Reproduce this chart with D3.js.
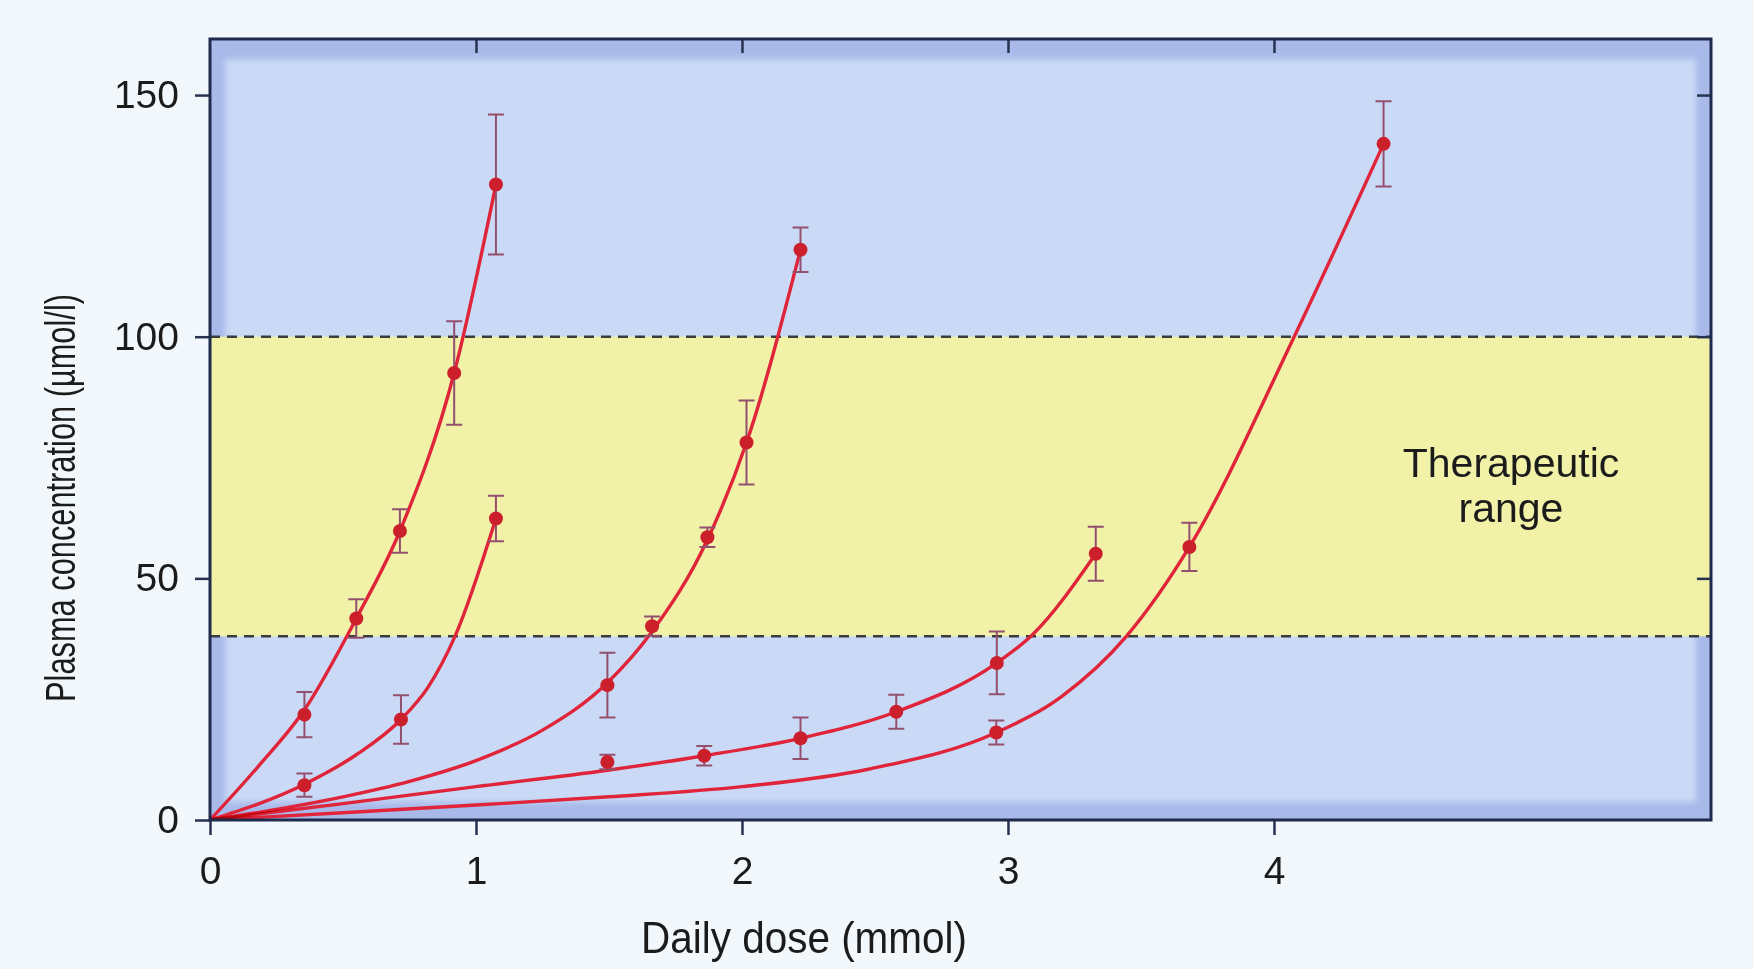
<!DOCTYPE html>
<html>
<head>
<meta charset="utf-8">
<script src="https://cdn.jsdelivr.net/npm/d3@7"></script>
<style>
  html, body { margin: 0; padding: 0; background: #f1f7fb; }
  svg { display: block; }
  text { font-family: "Liberation Sans", Arial, Helvetica, sans-serif; fill: #1b1b1b; }
</style>
</head>
<body>
<div id="chart"></div>
<script>
// measured points: daily dose (mmol), plasma concentration (µmol/l), error (±)
const doseA = [0.355, 0.55, 0.714, 0.918, 1.075];
const concA = [21.8, 41.7, 59.8, 92.5, 131.5];
const errA = [4.7, 4.0, 4.5, 10.7, 14.5];

const doseB = [0.355, 0.718, 1.075];
const concB = [7.2, 20.8, 62.4];
const errB = [2.4, 5.0, 4.7];

const doseC = [1.494, 1.662, 1.87, 2.017, 2.22];
const concC = [27.9, 40.1, 58.5, 78.1, 118.0];
const errC = [6.7, 2.0, 2.0, 8.7, 4.6];

const doseD = [1.494, 1.858, 2.22, 2.58, 2.958, 3.33];
const concD = [12.0, 13.3, 16.9, 22.4, 32.5, 55.1];
const errD = [1.5, 2.0, 4.3, 3.5, 6.5, 5.6];

const doseE = [2.956, 3.682, 4.412];
const concE = [18.1, 56.5, 139.9];
const errE = [2.5, 5.0, 8.8];

// fitted curves
const fitDoseA = [0, 0.18, 0.355, 0.55, 0.714, 0.918, 1.075];
const fitConcA = [0, 11.0, 22.8, 41.7, 59.8, 92.5, 131.5];
const fitDoseB = [0, 0.355, 0.55, 0.718, 0.82, 0.921, 1.075];
const fitConcB = [0, 7.4, 13.5, 20.8, 27.5, 38.0, 62.4];
const fitDoseC = [0, 0.25, 0.5, 0.75, 1.0, 1.25, 1.494, 1.662, 1.87, 2.017, 2.22];
const fitConcC = [0, 2.2, 4.8, 8.0, 12.3, 18.6, 28.4, 39.0, 58.0, 78.1, 118.0];
const fitDoseD = [0, 0.5, 1.0, 1.494, 1.858, 2.22, 2.58, 2.958, 3.093, 3.33];
const fitConcD = [0, 3.4, 6.9, 10.3, 13.3, 16.9, 22.4, 32.5, 38.4, 55.1];
const fitDoseE = [0, 0.5, 1.0, 1.5, 2.0, 2.474, 2.956, 3.2, 3.445, 3.682, 4.076, 4.412];
const fitConcE = [0, 1.5, 3.1, 4.8, 6.9, 10.5, 18.1, 25.5, 38.0, 56.5, 100.0, 139.9];

const series = [
  { name: "A", dose: doseA, conc: concA, err: errA, fitDose: fitDoseA, fitConc: fitConcA },
  { name: "B", dose: doseB, conc: concB, err: errB, fitDose: fitDoseB, fitConc: fitConcB },
  { name: "C", dose: doseC, conc: concC, err: errC, fitDose: fitDoseC, fitConc: fitConcC },
  { name: "D", dose: doseD, conc: concD, err: errD, fitDose: fitDoseD, fitConc: fitConcD },
  { name: "E", dose: doseE, conc: concE, err: errE, fitDose: fitDoseE, fitConc: fitConcE },
];

// therapeutic range limits (µmol/l)
const therapeuticRange = [38, 100];

const xTicks = [0, 1, 2, 3, 4];
const yTicks = [0, 50, 100, 150];

const width = 1754;
const height = 969;
const marginLeft = 210;
const marginRight = 43;
const marginTop = 39;
const marginBottom = 149;

const x = d3.scaleLinear().domain([0, 5.643]).range([marginLeft, width - marginRight]);
const y = d3.scaleLinear().domain([0, 161.6]).range([height - marginBottom, marginTop]);

const plotW = x.range()[1] - x.range()[0];
const plotH = y.range()[0] - y.range()[1];

const svg = d3.create("svg").attr("width", width).attr("height", height);

const defs = svg.append("defs");
defs.append("clipPath").attr("id", "plot-clip")
  .append("rect")
  .attr("x", x.range()[0]).attr("y", y.range()[1])
  .attr("width", plotW).attr("height", plotH);
defs.append("filter").attr("id", "soft")
  .attr("x", "-5%").attr("y", "-5%").attr("width", "110%").attr("height", "110%")
  .append("feGaussianBlur").attr("stdDeviation", 3);

// plot background: blue with darker bevel, yellow therapeutic band
const bg = svg.append("g").attr("clip-path", "url(#plot-clip)");
bg.append("rect")
  .attr("x", x.range()[0]).attr("y", y.range()[1])
  .attr("width", plotW).attr("height", plotH)
  .attr("fill", "#a8b9ea");
bg.append("rect")
  .attr("x", x.range()[0] + 15).attr("y", y.range()[1] + 20)
  .attr("width", plotW - 30).attr("height", plotH - 38)
  .attr("fill", "#cadaf6")
  .attr("filter", "url(#soft)");
bg.append("rect")
  .attr("x", x.range()[0]).attr("y", y(therapeuticRange[1]))
  .attr("width", plotW)
  .attr("height", y(therapeuticRange[0]) - y(therapeuticRange[1]))
  .attr("fill", "#f1f2a8");

// dashed limits of the therapeutic range
svg.append("g")
  .selectAll("line")
  .data(therapeuticRange)
  .join("line")
  .attr("x1", x.range()[0]).attr("x2", x.range()[1])
  .attr("y1", (d) => y(d)).attr("y2", (d) => y(d))
  .attr("stroke", "#3c3c3c")
  .attr("stroke-width", 2.5)
  .attr("stroke-dasharray", "10,7");

svg.append("text")
  .attr("x", 1511).attr("y", 477)
  .attr("text-anchor", "middle")
  .style("font-size", "41px")
  .text("Therapeutic");
svg.append("text")
  .attr("x", 1511).attr("y", 522)
  .attr("text-anchor", "middle")
  .style("font-size", "41px")
  .text("range");

// fitted curves
const line = d3.line()
  .x((d) => x(d[0]))
  .y((d) => y(d[1]))
  .curve(d3.curveMonotoneX);

const plot = svg.append("g").attr("clip-path", "url(#plot-clip)");

plot.append("g")
  .attr("fill", "none")
  .attr("stroke", "#e0243a")
  .attr("stroke-width", 3.4)
  .attr("stroke-linejoin", "round")
  .selectAll("path")
  .data(series)
  .join("path")
  .style("mix-blend-mode", "multiply")
  .attr("d", (s) => line(s.fitDose.map((d, i) => [d, s.fitConc[i]])));

// error bars
const points = series.flatMap((s) => s.dose.map((d, i) => ({ dose: d, conc: s.conc[i], err: s.err[i] })));

plot.append("g")
  .attr("stroke", "#93506e")
  .attr("stroke-width", 2)
  .attr("fill", "none")
  .selectAll("path")
  .data(points)
  .join("path")
  .attr("d", (p) => {
    const cx = x(p.dose);
    const y0 = y(p.conc - p.err);
    const y1 = y(p.conc + p.err);
    return `M${cx - 8},${y1}H${cx + 8}M${cx},${y1}V${y0}M${cx - 8},${y0}H${cx + 8}`;
  });

plot.append("g")
  .selectAll("circle")
  .data(points)
  .join("circle")
  .attr("cx", (p) => x(p.dose))
  .attr("cy", (p) => y(p.conc))
  .attr("r", 7)
  .attr("fill", "#cc1f2c");

// axes: outward ticks left/bottom, inward ticks top/right
const tickStroke = (g) => {
  g.select(".domain").remove();
  g.selectAll(".tick line").attr("stroke", "#27324f").attr("stroke-width", 2.5);
  g.selectAll(".tick text").style("font-size", "39px").attr("fill", "#161616");
};

svg.append("g")
  .attr("transform", `translate(0,${y.range()[0]})`)
  .call(d3.axisBottom(x).tickValues(xTicks).tickSize(15).tickPadding(21).tickFormat(d3.format("d")))
  .call(tickStroke);

svg.append("g")
  .attr("transform", `translate(${x.range()[0]},0)`)
  .call(d3.axisLeft(y).tickValues(yTicks).tickSize(15).tickPadding(16).tickFormat(d3.format("d")))
  .call(tickStroke);

svg.append("g")
  .attr("transform", `translate(0,${y.range()[1]})`)
  .call(d3.axisBottom(x).tickValues(xTicks.slice(1)).tickSize(14).tickFormat(""))
  .call(tickStroke);

svg.append("g")
  .attr("transform", `translate(${x.range()[1]},0)`)
  .call(d3.axisLeft(y).tickValues(yTicks.slice(1)).tickSize(14).tickFormat(""))
  .call(tickStroke);

// frame
svg.append("rect")
  .attr("x", x.range()[0]).attr("y", y.range()[1])
  .attr("width", plotW).attr("height", plotH)
  .attr("fill", "none")
  .attr("stroke", "#1f2b4d")
  .attr("stroke-width", 3);

// axis titles
svg.append("text")
  .attr("x", 804).attr("y", 953)
  .attr("text-anchor", "middle")
  .attr("textLength", 326)
  .attr("lengthAdjust", "spacingAndGlyphs")
  .style("font-size", "44px")
  .text("Daily dose (mmol)");

svg.append("text")
  .attr("transform", "translate(75,498) rotate(-90)")
  .attr("text-anchor", "middle")
  .attr("textLength", 408)
  .attr("lengthAdjust", "spacingAndGlyphs")
  .style("font-size", "43px")
  .text("Plasma concentration (µmol/l)");

document.getElementById("chart").append(svg.node());
</script>
</body>
</html>
